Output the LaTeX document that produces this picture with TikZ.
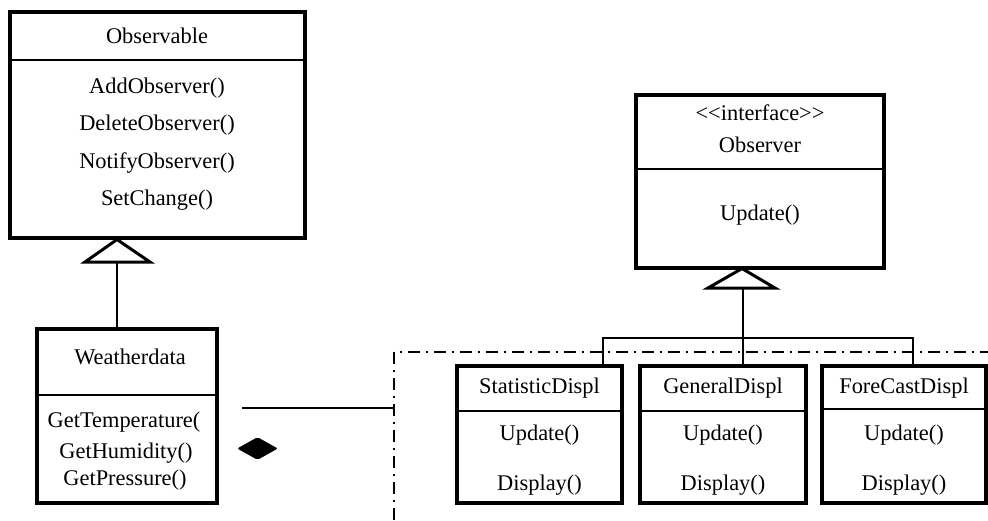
\documentclass[tikz,border=0pt]{standalone}
\usepackage{fontspec}
\setmainfont{Liberation Serif}
\usetikzlibrary{shapes.geometric}

\tikzset{
  classbox/.style={draw, line width=1.6pt, inner sep=0pt},
  member/.style={inner sep=0pt},
  divider/.style={line width=1.4pt},
  link/.style={line width=1.2pt},
  inherit/.style={draw, line width=1.5pt, line join=miter, fill=white},
  pkgframe/.style={line width=1.4pt, dash pattern=on 6pt off 2.8pt on 1.4pt off 2.8pt},
}

\begin{document}
\begin{tikzpicture}[x=0.5pt, y=-0.5pt, font=\fontsize{11.2pt}{13pt}\selectfont]
    \useasboundingbox (0,0) rectangle (988,520);

    % Subject side:
    % Observable and Weatherdata are plain boxes, the members are placed as nodes:
    \node[classbox, minimum width=147.5pt, minimum height=113pt] (obs) at (157.5,125) {};
    \draw[divider] (obs.west |- 0,60) -- (obs.east |- 0,60);
    \node[member] (obsname) at (157,36) {Observable};
    \node[member] (addobs) at (157,88) {AddObserver()};
    \node[member] (delobs) at (157,125) {DeleteObserver()};
    \node[member] (notobs) at (157,163) {NotifyObserver()};
    \node[member] (setchg) at (157,200) {SetChange()};

    \node[classbox, minimum width=90pt, minimum height=87pt] (wd) at (127,416) {};
    \draw[divider] (wd.west |- 0,395) -- (wd.east |- 0,395);
    \node[member] (wdname) at (130,357) {Weatherdata};
    \node[member] (gettemp) at (124,422) {GetTemperature(};
    \node[member] (gethum) at (126,453) {GetHumidity()};
    \node[member] (getpres) at (125,480) {GetPressure()};

    % \draw[link] (wd.north) -- (obs.south);
    \coordinate (tri1) at (117,262);
    \draw[inherit] (117,239.5) -- (150,262) -- (85,262) -- cycle;
    \draw[link] (tri1) -- (tri1 |- wd.north);

    % Observer side:
    \node[classbox, minimum width=124pt, minimum height=86.5pt] (obsv) at (760,181.5) {};
    \draw[line width=1.1pt] (obsv.west |- 0,169) -- (obsv.east |- 0,169);
    \node[member] (stereo) at (760,113) {{<}{<}interface{>}{>}};
    \node[member] (obsvname) at (760,145) {Observer};
    \node[member] (upd) at (760,215) {Update()};

    \foreach \name/\x/\w/\title/\dy in {stat/539.5/82.5/StatisticDispl/411,
                                       gen/723/83/GeneralDispl/411,
                                       fore/904/82/ForeCastDispl/409}{%
        \node[classbox, minimum width=\w pt, minimum height=68.5pt] (\name) at (\x,434.5) {};
        \draw[divider] (\name.west |- 0,\dy) -- (\name.east |- 0,\dy);
        \node[member] (\name-title) at (\x,388) {\title};
        \node[member] (\name-upd) at (\x,435) {Update()};
        \node[member] (\name-disp) at (\x,485) {Display()};
    }

    \coordinate (tri2) at (743,288);
    \draw[inherit] (742,268.5) -- (775,288) -- (708,288) -- cycle;
    \draw[link] (tri2) -- (tri2 |- gen.north);
    \coordinate (bl) at (603,338);
    \coordinate (br) at (913,338);
    \draw[link] (bl |- stat.north) -- (bl) -- (br) -- (br |- fore.north);

    % Package frame and composition:
    \coordinate (frame) at (394,352);
    \draw[pkgframe] (394,520) -- (frame) -- (988,352);
    \coordinate (assoc) at (242,408);
    \draw[link] (assoc) -- (assoc -| frame);
    \node[diamond, fill=black, inner sep=0pt, minimum width=20.5pt, minimum height=11.5pt,
          rounded corners=1pt] (comp) at (257.5,448.5) {};
\end{tikzpicture}
\end{document}
